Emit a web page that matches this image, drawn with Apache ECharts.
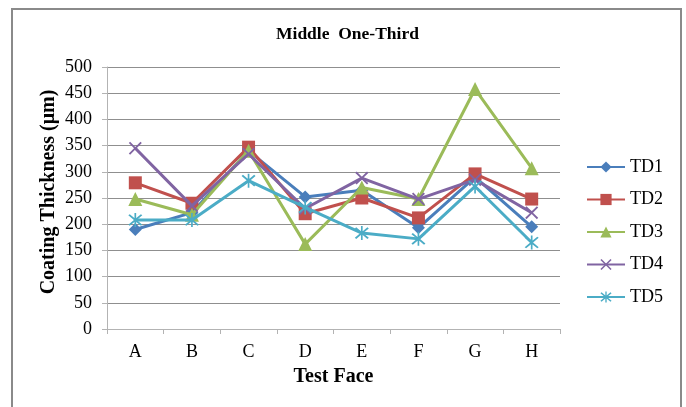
<!DOCTYPE html>
<html>
<head>
<meta charset="utf-8">
<script src="https://cdn.jsdelivr.net/npm/echarts@6/dist/echarts.min.js"></script>
<style>
  html, body { margin: 0; padding: 0; background: #fff; }
  #chart { width: 686px; height: 407px; }
</style>
</head>
<body>
<div id="chart"></div>
<script>
// Test faces along the x axis
const categories = ['A', 'B', 'C', 'D', 'E', 'F', 'G', 'H'];

// Coating thickness (µm) per test face, one array per test
const td1 = [190, 222, 340, 252, 265, 193, 290, 195];
const td2 = [279, 240, 347, 220, 250, 212, 296, 248];
const td3 = [248, 218, 340, 162, 270, 248, 458, 307];
const td4 = [345, 235, 334, 230, 288, 248, 285, 222];
const td5 = [208, 208, 283, 232, 183, 172, 272, 165];

const seriesNames = ['TD1', 'TD2', 'TD3', 'TD4', 'TD5'];
const seriesData = [td1, td2, td3, td4, td5];
const colors = ['#4A7EBB', '#C0504D', '#9BBB59', '#8064A2', '#4BACC6'];

// Cross and asterisk marker outlines
const crossPath = 'path://M0,1 L1,0 L5,4 L9,0 L10,1 L6,5 L10,9 L9,10 L5,6 L1,10 L0,9 L4,5 Z';
const starPath = 'path://M0,1 L1,0 L5,4 L9,0 L10,1 L6,5 L10,9 L9,10 L5,6 L1,10 L0,9 L4,5 Z M4.4,-1 L5.6,-1 L5.6,11 L4.4,11 Z';
const symbols = ['diamond', 'rect', 'triangle', crossPath, starPath];
const symbolSizes = [13, 13, 14, 13, 14];

const serif = '"Liberation Serif", "Times New Roman", serif';

const chart = echarts.init(document.getElementById('chart'), null, { renderer: 'canvas' });

chart.setOption({
  animation: false,
  backgroundColor: '#fff',
  graphic: [{
    type: 'rect',
    shape: { x: 12, y: 9, width: 669, height: 420 },
    style: { fill: 'none', stroke: '#8a8a8a', lineWidth: 2 },
    silent: true
  }],
  title: {
    text: 'Middle  One-Third',
    left: 271,
    top: 20,
    textStyle: { fontFamily: serif, fontSize: 17.5, fontWeight: 'bold', color: '#000' }
  },
  legend: {
    orient: 'vertical',
    left: 581,
    top: 153,
    itemWidth: 38,
    itemHeight: 14,
    itemGap: 14.5,
    textStyle: { fontFamily: serif, fontSize: 18, color: '#000' },
    data: seriesNames
  },
  grid: { left: 107, right: 126, top: 67, bottom: 78 },
  xAxis: {
    type: 'category',
    data: categories,
    boundaryGap: true,
    name: 'Test Face',
    nameLocation: 'middle',
    nameGap: 38,
    nameMoveOverlap: false,
    nameTextStyle: { fontFamily: serif, fontSize: 20, fontWeight: 'bold', color: '#000' },
    axisLine: { lineStyle: { color: '#b3b3b3', width: 1 } },
    axisTick: { show: true, alignWithLabel: false, length: 5, lineStyle: { color: '#b3b3b3' } },
    axisLabel: { fontFamily: serif, fontSize: 18, color: '#000', margin: 14 },
    splitLine: { show: false }
  },
  yAxis: {
    type: 'value',
    min: 0,
    max: 500,
    interval: 50,
    name: 'Coating Thickness (μm)',
    nameLocation: 'middle',
    nameGap: 48,
    nameRotate: 90,
    nameMoveOverlap: false,
    nameTextStyle: { fontFamily: serif, fontSize: 20, fontWeight: 'bold', color: '#000', padding: [0, 0, 0, 12] },
    axisLine: { show: true, lineStyle: { color: '#b3b3b3', width: 1 } },
    axisTick: { show: true, length: 5, lineStyle: { color: '#b3b3b3' } },
    axisLabel: { fontFamily: serif, fontSize: 18, color: '#000', margin: 15 },
    splitLine: { show: true, lineStyle: { color: '#8f8f8f', width: 1 } }
  },
  series: seriesNames.map((name, i) => ({
    name: name,
    type: 'line',
    data: seriesData[i],
    symbol: symbols[i],
    symbolSize: symbolSizes[i],
    showAllSymbol: true,
    z: 2 + i,
    lineStyle: { color: colors[i], width: 3 },
    itemStyle: { color: colors[i], borderWidth: 0 }
  }))
});
</script>
</body>
</html>
